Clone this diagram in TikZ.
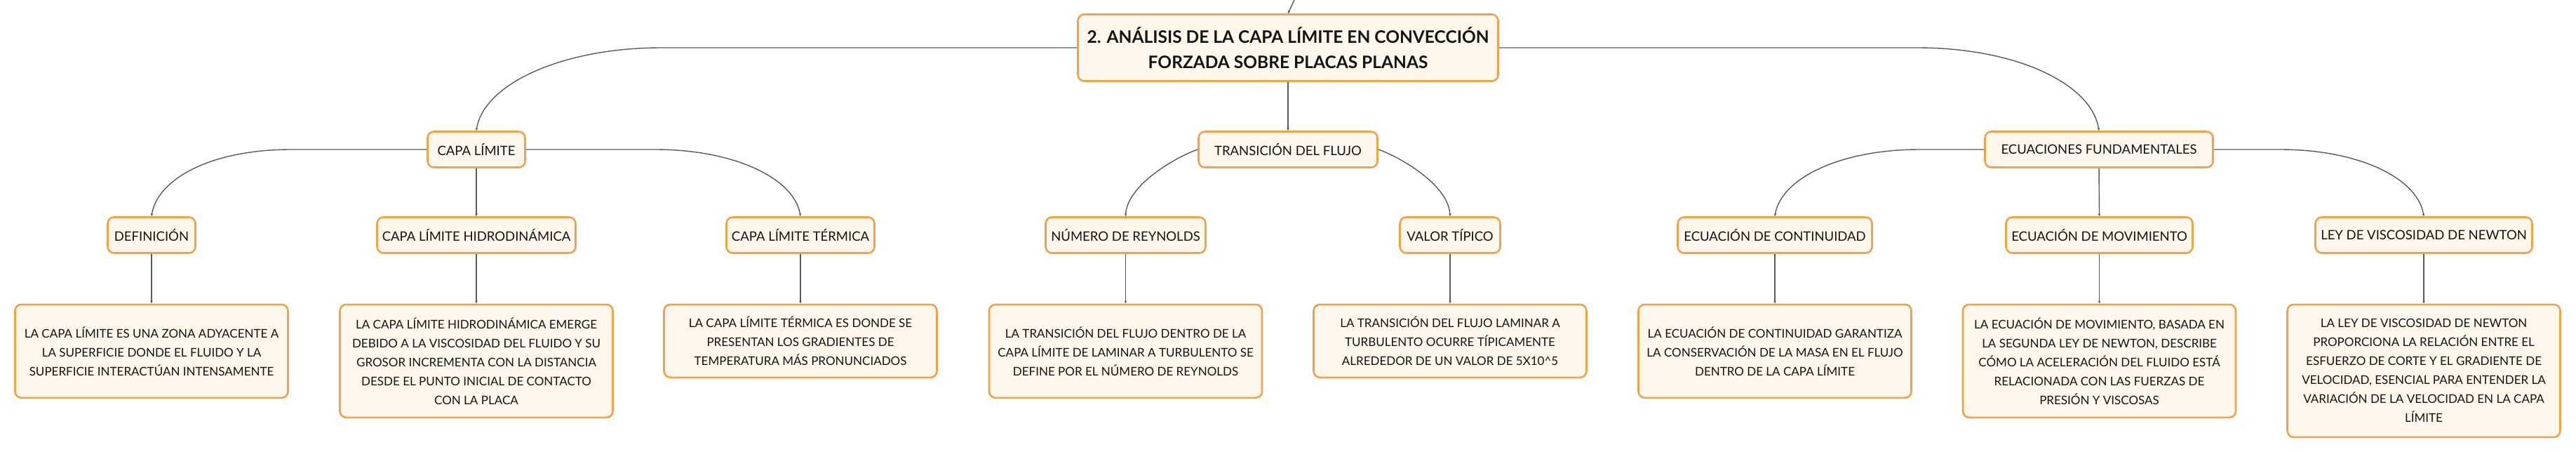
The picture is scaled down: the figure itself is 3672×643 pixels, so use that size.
\documentclass[tikz,border=0pt]{standalone}
\usepackage{fontspec}
\setmainfont{Lato}
\usetikzlibrary{arrows.meta}
\definecolor{boxborder}{HTML}{F4A24A}
\definecolor{boxfill}{HTML}{FFF6EC}
\definecolor{linkgray}{HTML}{5A5A5A}
\definecolor{inkcol}{HTML}{141414}
\begin{document}
\begin{tikzpicture}[x=1pt,y=-1pt,
  basebox/.style={rectangle, rounded corners=9pt, draw=boxborder, line width=2.6pt,
    fill=boxfill, text=inkcol, align=center, inner sep=0pt},
  titlebox/.style={basebox, font=\fontsize{24.5}{36}\selectfont\bfseries,
    minimum width=599pt, minimum height=95pt},
  topicbox/.style={basebox, font=\fontsize{18.5}{24}\selectfont, minimum height=51pt},
  notebox/.style={basebox, font=\fontsize{17}{27}\selectfont, minimum width=389pt, anchor=north},
  conn/.style={draw=linkgray, line width=1.4pt, -{Stealth[length=4pt,width=3.5pt]}},
]
\useasboundingbox (0,0) rectangle (3672,643);

% title
\node[titlebox] (title) at (1836,68) {2. ANÁLISIS DE LA CAPA LÍMITE EN CONVECCIÓN\\FORZADA SOBRE PLACAS PLANAS};
\coordinate (topend) at (1845,0);

% level 1
\node[topicbox, minimum width=139pt] (capa) at (679,213) {CAPA LÍMITE};
\node[topicbox, minimum width=255pt] (trans) at (1836,213) {TRANSICIÓN DEL FLUJO};
\node[topicbox, minimum width=325pt] (ecu) at (2992,213) {ECUACIONES FUNDAMENTALES};

% level 2
\node[topicbox, minimum width=125pt] (def) at (216,335) {DEFINICIÓN};
\node[topicbox, minimum width=283pt] (hidro) at (679,335) {CAPA LÍMITE HIDRODINÁMICA};
\node[topicbox, minimum width=211pt] (term) at (1141,335) {CAPA LÍMITE TÉRMICA};
\node[topicbox, minimum width=228pt] (num) at (1604.5,335) {NÚMERO DE REYNOLDS};
\node[topicbox, minimum width=143pt] (valor) at (2067,335) {VALOR TÍPICO};
\node[topicbox, minimum width=277pt] (cont) at (2530,335) {ECUACIÓN DE CONTINUIDAD};
\node[topicbox, minimum width=266pt] (mov) at (2992.5,335) {ECUACIÓN DE MOVIMIENTO};
\node[topicbox, minimum width=309pt] (ley) at (3455,335) {LEY DE VISCOSIDAD DE NEWTON};

% level 3
\node[notebox, minimum height=133pt] (deftx) at (216,432.5) {LA CAPA LÍMITE ES UNA ZONA ADYACENTE A\\LA SUPERFICIE DONDE EL FLUIDO Y LA\\SUPERFICIE INTERACTÚAN INTENSAMENTE};
\node[notebox, minimum height=161pt] (hidrotx) at (679,432.5) {LA CAPA LÍMITE HIDRODINÁMICA EMERGE\\DEBIDO A LA VISCOSIDAD DEL FLUIDO Y SU\\GROSOR INCREMENTA CON LA DISTANCIA\\DESDE EL PUNTO INICIAL DE CONTACTO\\CON LA PLACA};
\node[notebox, minimum height=104pt] (termtx) at (1141,432.5) {LA CAPA LÍMITE TÉRMICA ES DONDE SE\\PRESENTAN LOS GRADIENTES DE\\TEMPERATURA MÁS PRONUNCIADOS};
\node[notebox, minimum height=133pt] (numtx) at (1604.5,432.5) {LA TRANSICIÓN DEL FLUJO DENTRO DE LA\\CAPA LÍMITE DE LAMINAR A TURBULENTO SE\\DEFINE POR EL NÚMERO DE REYNOLDS};
\node[notebox, minimum height=104pt] (valortx) at (2067,432.5) {LA TRANSICIÓN DEL FLUJO LAMINAR A\\TURBULENTO OCURRE TÍPICAMENTE\\ALREDEDOR DE UN VALOR DE 5X10\textasciicircum5};
\node[notebox, minimum height=133pt] (conttx) at (2530,432.5) {LA ECUACIÓN DE CONTINUIDAD GARANTIZA\\LA CONSERVACIÓN DE LA MASA EN EL FLUJO\\DENTRO DE LA CAPA LÍMITE};
\node[notebox, minimum height=161pt] (movtx) at (2992.5,432.5) {LA ECUACIÓN DE MOVIMIENTO, BASADA EN\\LA SEGUNDA LEY DE NEWTON, DESCRIBE\\CÓMO LA ACELERACIÓN DEL FLUIDO ESTÁ\\RELACIONADA CON LAS FUERZAS DE\\PRESIÓN Y VISCOSAS};
\node[notebox, minimum height=189pt] (leytx) at (3455,432.5) {LA LEY DE VISCOSIDAD DE NEWTON\\PROPORCIONA LA RELACIÓN ENTRE EL\\ESFUERZO DE CORTE Y EL GRADIENTE DE\\VELOCIDAD, ESENCIAL PARA ENTENDER LA\\VARIACIÓN DE LA VELOCIDAD EN LA CAPA\\LÍMITE};

% connectors from title
\draw[conn] (topend) -- (title.north);
\draw[conn] (title.west) -- ++(-592,0) .. controls +(-143,0) and +(10,-66) .. (capa.north);
\draw[conn] (title.south) -- (trans.north);
\draw[conn] (title.east) -- ++(596,0) .. controls +(143,0) and +(-10,-66) .. (ecu.north);

% capa limite
\draw[conn] (capa.west) -- ++(-193,0) .. controls +(-115,0) and +(8,-53) .. (def.north);
\draw[conn] (capa.south) -- (hidro.north);
\draw[conn] (capa.east) -- ++(184,0) .. controls +(115,0) and +(-8,-53) .. (term.north);

% transicion
\draw[conn] (trans.west) .. controls +(-27,9) and +(2,-46) .. (num.north);
\draw[conn] (trans.east) .. controls +(27,9) and +(-2,-46) .. (valor.north);

% ecuaciones
\draw[conn] (ecu.west) -- ++(-92,0) .. controls +(-115,0) and +(8,-53) .. (cont.north);
\draw[conn] (ecu.south) -- (mov.north);
\draw[conn] (ecu.east) -- ++(94,0) .. controls +(115,0) and +(-8,-53) .. (ley.north);

% to notes
\draw[conn] (def.south) -- (deftx.north);
\draw[conn] (hidro.south) -- (hidrotx.north);
\draw[conn] (term.south) -- (termtx.north);
\draw[conn] (num.south) -- (numtx.north);
\draw[conn] (valor.south) -- (valortx.north);
\draw[conn] (cont.south) -- (conttx.north);
\draw[conn] (mov.south) -- (movtx.north);
\draw[conn] (ley.south) -- (leytx.north);
\end{tikzpicture}
\end{document}
